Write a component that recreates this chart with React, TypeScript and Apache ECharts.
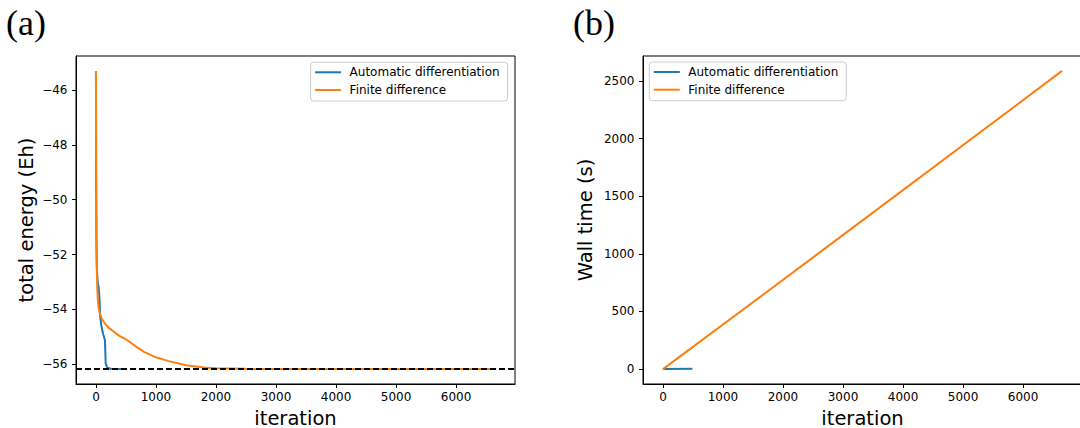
import React, { useEffect, useRef } from "react";
import * as echarts from "echarts";

// ---- data ----
const SERIES_NAMES = ["Automatic differentiation", "Finite difference"];

// (a) total energy vs iteration
const AD_ITER = [0, 3, 8, 15, 25, 35, 45, 50, 55, 72, 90, 120, 150, 162, 188, 250, 470];
const AD_ENERGY = [-45.3, -49.0, -51.5, -52.5, -52.9, -53.1, -53.18, -53.2, -53.5, -54.28, -54.6, -54.9, -55.13, -55.97, -56.13, -56.17, -56.18];

const FD_ITER = [0, 3, 6, 10, 15, 20, 30, 45, 70, 100, 150, 200, 300, 400, 500, 550, 650, 800, 1000, 1200, 1500, 1800, 2000, 2500, 3000, 6650];
const FD_ENERGY = [-45.3, -48.5, -50.5, -51.8, -52.6, -53.1, -53.6, -53.95, -54.2, -54.35, -54.52, -54.65, -54.82, -54.98, -55.1, -55.17, -55.33, -55.55, -55.75, -55.88, -56.04, -56.12, -56.15, -56.17, -56.18, -56.18];

const REF_ENERGY = -56.18;

// (b) wall time vs iteration
const AD_TIME_ITER = [0, 490];
const AD_TIME = [0, 2];
const FD_TIME_ITER = [0, 2669, 6650];
const FD_TIME = [0, 1034, 2587];

// tick values
const X_TICKS = [0, 1000, 2000, 3000, 4000, 5000, 6000];
const E_TICKS = [-56, -54, -52, -50, -48, -46];
const T_TICKS = [0, 500, 1000, 1500, 2000, 2500];

const BLUE = "#1f77b4";
const ORANGE = "#ff7f0e";
const FONT = "DejaVu Sans";
const LW = 2;

const zip = (a: number[], b: number[]) => a.map((v, i) => [v, b[i]]);
const pad = (lo: number, hi: number) => {
  const m = (hi - lo) * 0.05;
  return [lo - m, hi + m];
};
const minusFmt = (v: number) => (v < 0 ? "\u2212" + String(Math.abs(v)) : String(v));

export default function App() {
  const ref = useRef<HTMLDivElement>(null);

  useEffect(() => {
    if (!ref.current) return;
    const chart = echarts.init(ref.current, null, { renderer: "svg" });

    const allIter = [...AD_ITER, ...FD_ITER, ...AD_TIME_ITER, ...FD_TIME_ITER];
    const [xMin, xMax] = pad(Math.min(...allIter), Math.max(...allIter));
    const allE = [...AD_ENERGY, ...FD_ENERGY, REF_ENERGY];
    const [eMin, eMax] = pad(Math.min(...allE), Math.max(...allE));
    const allT = [...AD_TIME, ...FD_TIME];
    const [tMin, tMax] = pad(Math.min(...allT), Math.max(...allT));

    const xAxisBase = (gridIndex: number) => ({
      type: "value",
      gridIndex,
      min: xMin,
      max: xMax,
      name: "iteration",
      nameLocation: "middle",
      nameGap: 24,
      nameTextStyle: { fontFamily: FONT, fontSize: 19.5, color: "#000" },
      axisLine: { show: true, onZero: false, lineStyle: { color: "#000", width: 1 } },
      axisTick: { show: true, length: 4, lineStyle: { color: "#000" }, customValues: X_TICKS },
      axisLabel: {
        margin: 7,
        fontFamily: FONT,
        fontSize: 12,
        color: "#000",
        customValues: X_TICKS,
        formatter: (v: number) => minusFmt(v),
      },
      splitLine: { show: false },
    });

    const yAxisBase = (gridIndex: number, min: number, max: number, ticks: number[], name: string, gap: number) => ({
      type: "value",
      gridIndex,
      min,
      max,
      name,
      nameLocation: "middle",
      nameGap: gap,
      nameTextStyle: { fontFamily: FONT, fontSize: 19.5, color: "#000" },
      axisLine: { show: true, onZero: false, lineStyle: { color: "#000", width: 1 } },
      axisTick: { show: true, length: 4, lineStyle: { color: "#000" }, customValues: ticks },
      axisLabel: {
        margin: 8.5,
        fontFamily: FONT,
        fontSize: 12,
        color: "#000",
        customValues: ticks,
        formatter: (v: number) => minusFmt(v),
      },
      splitLine: { show: false },
    });

    const legendBase = (left: number, top: number) => ({
      orient: "vertical",
      left,
      top,
      data: SERIES_NAMES,
      icon: "rect",
      itemWidth: 26,
      itemHeight: LW,
      itemGap: 3.7,
      padding: [3, 8, 4, 4.5],
      borderColor: "#cccccc",
      borderWidth: 1,
      borderRadius: 3,
      backgroundColor: "rgba(255,255,255,0.8)",
      selectedMode: false,
      textStyle: {
        fontFamily: FONT,
        fontSize: 12,
        color: "#000",
        lineHeight: 14,
        padding: [0, 0, 0, 3.5],
      },
    });

    const lineSeries = (name: string, color: string, data: number[][], xi: number, yi: number) => ({
      type: "line",
      name,
      data,
      xAxisIndex: xi,
      yAxisIndex: yi,
      symbol: "none",
      showSymbol: false,
      lineStyle: { color, width: LW },
      itemStyle: { color },
      z: 2,
    });

    const gridBase = (left: number) => ({
      left,
      top: 56,
      width: 439,
      height: 328,
      show: true,
      borderColor: "#000",
      borderWidth: 1,
      backgroundColor: "transparent",
      containLabel: false,
      outerBoundsMode: "none",
    });

    chart.setOption({
      animation: false,
      backgroundColor: "#fff",
      grid: [gridBase(76), gridBase(643)],
      xAxis: [xAxisBase(0), xAxisBase(1)],
      yAxis: [
        yAxisBase(0, eMin, eMax, E_TICKS, "total energy (Eh)", 40),
        yAxisBase(1, tMin, tMax, T_TICKS, "Wall time (s)", 48),
      ],
      legend: [legendBase(310.6, 62.3), legendBase(649.3, 62)],
      series: [
        lineSeries(SERIES_NAMES[0], BLUE, zip(AD_ITER, AD_ENERGY), 0, 0),
        lineSeries(SERIES_NAMES[1], ORANGE, zip(FD_ITER, FD_ENERGY), 0, 0),
        {
          type: "line",
          name: "reference",
          xAxisIndex: 0,
          yAxisIndex: 0,
          data: [],
          silent: true,
          markLine: {
            silent: true,
            symbol: ["none", "none"],
            label: { show: false },
            lineStyle: { color: "#000", width: LW, type: [6, 3] },
            data: [{ yAxis: REF_ENERGY }],
            z: 5,
          },
        },
        lineSeries(SERIES_NAMES[0], BLUE, zip(AD_TIME_ITER, AD_TIME), 1, 1),
        lineSeries(SERIES_NAMES[1], ORANGE, zip(FD_TIME_ITER, FD_TIME), 1, 1),
      ],
      graphic: [
        {
          type: "text",
          left: 6,
          top: 5,
          style: { text: "(a)", fontFamily: "Liberation Serif", fontSize: 36, fill: "#000" },
        },
        {
          type: "text",
          left: 573,
          top: 5,
          style: { text: "(b)", fontFamily: "Liberation Serif", fontSize: 36, fill: "#000" },
        },
      ],
    });

    return () => chart.dispose();
  }, []);

  return (
    <div
      ref={ref}
      style={{ position: "absolute", left: 0, top: 0, width: 1080, height: 428 }}
    />
  );
}
